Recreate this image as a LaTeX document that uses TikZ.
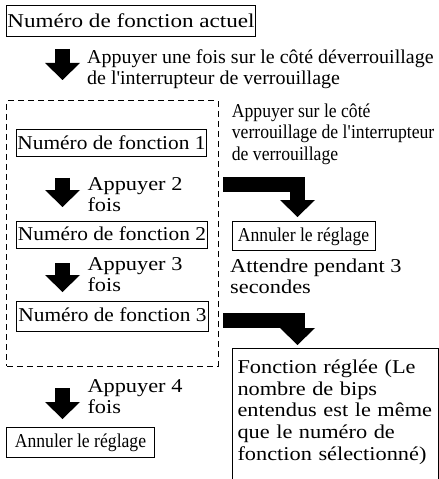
\documentclass[tikz,border=0pt]{standalone}
\usepackage{fontspec}
\setmainfont{Liberation Serif}
\newfontfamily\fA[FakeStretch=1.18]{Liberation Serif}
\newfontfamily\fB[FakeStretch=1.02]{Liberation Serif}
\newfontfamily\fC[FakeStretch=1.09]{Liberation Serif}
\newfontfamily\fD[FakeStretch=1.14]{Liberation Serif}
\newfontfamily\fE[FakeStretch=0.90]{Liberation Serif}
\usetikzlibrary{arrows.meta}
\newcommand\fsz{\fontsize{19.6bp}{21.7bp}\selectfont}
\newcommand\fstrut{\rule{0pt}{15bp}}
\begin{document}
\begin{tikzpicture}[x=1bp,y=-1bp,
  box/.style={draw,line width=1bp,inner sep=0pt,text height=13.5bp,text depth=2bp},
  lbl/.style={anchor=north west,inner sep=0pt,align=left},
  blk/.style={line width=15bp,line join=miter,-{Triangle[length={17bp 0 0},width={35bp 0 0},line width=0pt]}},
  grp/.style={draw,dash pattern=on 6bp off 4bp,line width=1bp,inner sep=0pt}]
\useasboundingbox (0,0) rectangle (439,479);

% boxes
\node[box,font=\fsz\fA,minimum width=248bp,minimum height=31bp] (act) at (131,21.5) {Numéro de fonction actuel};
\node[grp,minimum width=211bp,minimum height=265bp] (grpbox) at (112.5,233.5) {};
\node[box,font=\fsz\fC,minimum width=189bp,minimum height=27bp] (fn1) at (111.5,143.5) {Numéro de fonction 1};
\node[box,font=\fsz\fC,minimum width=190bp,minimum height=27bp] (fn2) at (112,235) {Numéro de fonction 2};
\node[box,font=\fsz\fC,minimum width=191bp,minimum height=30bp] (fn3) at (112.5,316) {Numéro de fonction 3};
\node[box,font=\fsz\fE,minimum width=143bp,minimum height=29bp] (annR) at (303.5,236) {Annuler le réglage};
\node[box,font=\fsz\fE,minimum width=147bp,minimum height=30bp] (annB) at (80.5,442) {Annuler le réglage};
\node[draw,line width=1bp,anchor=north west,inner xsep=5bp,inner ysep=10bp,text width=196bp,align=left,font=\fsz\fD] (fr) at (232,348)
  {\fstrut Fonction réglée (Le\\nombre de bips\\entendus est le même\\que le numéro de\\fonction sélectionné)\rule[-15bp]{0pt}{15bp}};

% labels
\node[lbl,font=\fsz\fB] (t1) at (87,48) {\fstrut Appuyer une fois sur le côté déverrouillage\\de l\textquotesingle interrupteur de verrouillage};
\node[lbl,font=\fsz\fD] (t2) at (87.3,175) {\fstrut Appuyer 2\\fois};
\node[lbl,font=\fsz\fD] (t3) at (87.3,255) {\fstrut Appuyer 3\\fois};
\node[lbl,font=\fsz\fD] (t4) at (87.3,377) {\fstrut Appuyer 4\\fois};
\node[lbl,font=\fsz\fE] (tr1) at (231.7,102) {\fstrut Appuyer sur le côté\\verrouillage de l\textquotesingle interrupteur\\de verrouillage};
\node[lbl,font=\fsz\fD] (tr2) at (230,257) {\fstrut Attendre pendant 3\\secondes};

% arrows
\coordinate (a1s) at (62.5,49);  \coordinate (a1e) at (62.5,80);
\coordinate (a2s) at (62.5,178); \coordinate (a2e) at (62.5,207);
\coordinate (a3s) at (62.5,263); \coordinate (a3e) at (62.5,292);
\coordinate (a4s) at (62.5,388); \coordinate (a4e) at (62.5,419);
\coordinate (b1s) at (223,184.5); \coordinate (b1e) at (297.5,217);
\coordinate (b2s) at (223,320.5); \coordinate (b2e) at (297.5,345);
\draw[blk] (a1s) -- (a1e);
\draw[blk] (a2s) -- (a2e);
\draw[blk] (a3s) -- (a3e);
\draw[blk] (a4s) -- (a4e);
\draw[blk] (b1s) -| (b1e);
\draw[blk] (b2s) -| (b2e);
\end{tikzpicture}
\end{document}
